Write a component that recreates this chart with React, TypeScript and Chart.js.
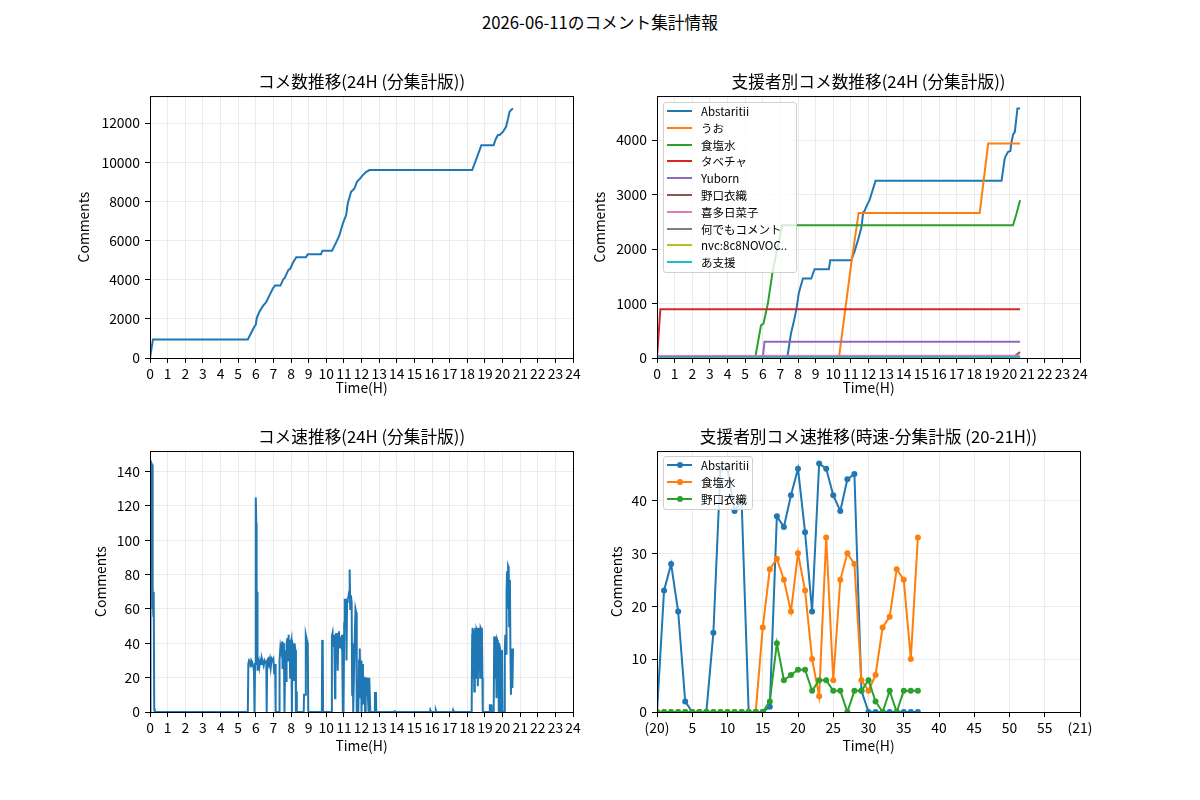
import React, { useEffect, useRef } from 'react';
import { Chart, registerables } from 'chart.js';

Chart.register(...registerables);

// ---------------- DATA ----------------
const pageTitle = '2026-06-11のコメント集計情報';
const titleTotal = 'コメ数推移(24H (分集計版))';
const titleSupporters = '支援者別コメ数推移(24H (分集計版))';
const titleSpeed = 'コメ速推移(24H (分集計版))';
const titleSupporterSpeed = '支援者別コメ速推移(時速-分集計版 (20-21H))';
const yLabel = 'Comments';
const xLabel = 'Time(H)';
const minuteStartLabel = '(20)';
const minuteEndLabel = '(21)';

// tick values
const hourTicks = [0, 1, 2, 3, 4, 5, 6, 7, 8, 9, 10, 11, 12, 13, 14, 15, 16, 17, 18, 19, 20, 21, 22, 23, 24];
const minuteTicks = [0, 5, 10, 15, 20, 25, 30, 35, 40, 45, 50, 55, 60];
const totalTicks = [0, 2000, 4000, 6000, 8000, 10000, 12000];
const supporterTicks = [0, 1000, 2000, 3000, 4000];
const speedTicks = [0, 20, 40, 60, 80, 100, 120, 140];
const supporterSpeedTicks = [0, 10, 20, 30, 40];

// Top-left: total cumulative comments [hour, count]
const totalCumulative: [number, number][] = [
  [0, 0], [0.17, 950], [5.55, 950], [5.75, 1300], [5.92, 1600], [6.0, 1700], [6.06, 2050], [6.2, 2350],
  [6.4, 2650], [6.59, 2850], [6.75, 3150], [6.97, 3550], [7.1, 3700], [7.4, 3700], [7.55, 4000], [7.65, 4100],
  [7.75, 4300], [7.85, 4500], [7.95, 4550], [8.1, 4850], [8.3, 5150], [8.85, 5150], [8.95, 5300], [9.7, 5300],
  [9.78, 5480], [10.33, 5480], [10.55, 5880], [10.75, 6270], [10.94, 6870], [11.13, 7300], [11.22, 7890],
  [11.41, 8490], [11.6, 8660], [11.74, 9000], [11.9, 9150], [12.08, 9340], [12.25, 9500], [12.45, 9600],
  [18.28, 9600], [18.55, 10250], [18.8, 10870], [19.5, 10870], [19.6, 11150], [19.74, 11390], [19.84, 11390],
  [20.03, 11560], [20.2, 11810], [20.32, 12250], [20.4, 12580], [20.5, 12680], [20.6, 12745],
];

// Top-right: cumulative comments per supporter [hour, count]
const supporterNames = ['Abstaritii', 'うお', '食塩水', 'タベチャ', 'Yuborn', '野口衣織', '喜多日菜子', '何でもコメント', 'nvc:8c8NOVOC..', 'あ支援'];
const abstaritiiCum: [number, number][] = [
  [0, 0], [7.39, 0], [7.6, 450], [7.75, 650], [7.9, 880], [8.05, 1200], [8.28, 1460], [8.75, 1460], [8.94, 1630],
  [9.75, 1630], [9.83, 1795], [11.02, 1795], [11.2, 1950], [11.4, 2160], [11.6, 2400], [11.7, 2680], [11.78, 2700],
  [11.9, 2800], [12.06, 2900], [12.25, 3100], [12.4, 3253], [19.55, 3253], [19.72, 3650], [19.77, 3700],
  [19.92, 3786], [20.05, 3800], [20.1, 3940], [20.2, 4100], [20.3, 4150], [20.45, 4582], [20.6, 4582],
];
const uoCum: [number, number][] = [
  [0, 0], [10.32, 0], [10.7, 940], [11.02, 1734], [11.44, 2665], [18.31, 2665], [18.79, 3939], [20.6, 3939],
];
const shokuensuiCum: [number, number][] = [
  [0, 0], [5.57, 0], [5.9, 600], [6.04, 630], [6.29, 1000], [6.57, 1610], [7.1, 2438], [20.2, 2438], [20.4, 2652], [20.6, 2897],
];
const tabechaCum: [number, number][] = [[0, 0], [0.19, 895], [20.6, 895]];
const yubornCum: [number, number][] = [[0, 0], [6.0, 0], [6.1, 300], [20.6, 300]];
const noguchiCum: [number, number][] = [[0, 0], [20.15, 0], [20.6, 110]];
const kitaCum: [number, number][] = [[0, 0], [0.1, 35], [20.6, 40]];
const nandemoCum: [number, number][] = [[0, 0], [0.2, 15], [20.6, 20]];
const nvcCum: [number, number][] = [[0, 0], [20.6, 5]];
const aShienCum: [number, number][] = [[0, 0], [20.6, 8]];

// Bottom-left: comments per minute [hour, count]
const speedPerMinute: [number, number][] = [
  [0, 0], [0.02, 4], [0.04, 142], [0.08, 145], [0.12, 144], [0.14, 60], [0.16, 72], [0.19, 56], [0.21, 70], [0.24, 2], [0.27, 0],
  [5.55, 0], [5.58, 28], [5.62, 30], [5.68, 29], [5.72, 26], [5.75, 30], [5.8, 29], [5.85, 27], [5.9, 24], [5.93, 0],
  [5.96, 28], [6.0, 125], [6.03, 110], [6.05, 68], [6.08, 70], [6.1, 24], [6.14, 30], [6.2, 26], [6.25, 30], [6.3, 28],
  [6.35, 31], [6.4, 29], [6.45, 27], [6.5, 30], [6.55, 29], [6.6, 28], [6.62, 0], [6.65, 30], [6.7, 31], [6.75, 29],
  [6.8, 31], [6.85, 26], [6.9, 31], [6.95, 30], [7.0, 31], [7.05, 22], [7.1, 28], [7.13, 0],
  [7.32, 0], [7.35, 30], [7.4, 38], [7.45, 35], [7.5, 41], [7.52, 25], [7.55, 40], [7.6, 36], [7.63, 0], [7.68, 36],
  [7.72, 18], [7.75, 40], [7.8, 43], [7.83, 30], [7.85, 45], [7.88, 36], [7.92, 42], [7.95, 20], [7.98, 40], [8.02, 42],
  [8.05, 0], [8.08, 40], [8.12, 38], [8.15, 18], [8.2, 40], [8.25, 36], [8.28, 0], [8.3, 12], [8.33, 0],
  [8.72, 0], [8.74, 10], [8.82, 10], [8.84, 45], [8.9, 42], [8.95, 40], [8.98, 0],
  [9.75, 0], [9.77, 42], [9.8, 40], [9.82, 0],
  [10.3, 0], [10.32, 44], [10.36, 46], [10.4, 38], [10.45, 45], [10.5, 8], [10.52, 40], [10.56, 46], [10.6, 42],
  [10.65, 24], [10.68, 44], [10.72, 47], [10.76, 37], [10.8, 44], [10.85, 40], [10.9, 45], [10.93, 38], [10.95, 0],
  [10.98, 0], [11.02, 52], [11.05, 66], [11.08, 55], [11.12, 66], [11.15, 30], [11.18, 64], [11.22, 66], [11.26, 67],
  [11.3, 70], [11.33, 83], [11.36, 60], [11.4, 68], [11.44, 64], [11.47, 10], [11.5, 40], [11.53, 0], [11.56, 0],
  [11.62, 45], [11.66, 60], [11.7, 58], [11.73, 0], [11.78, 18], [11.82, 0], [11.86, 30], [11.9, 37], [11.94, 8],
  [11.98, 30], [12.0, 0], [12.04, 20], [12.08, 28], [12.1, 5], [12.14, 20], [12.18, 20], [12.2, 0], [12.24, 20],
  [12.28, 10], [12.32, 20], [12.36, 20], [12.4, 0], [12.44, 20], [12.48, 20], [12.5, 0],
  [12.74, 0], [12.76, 11], [12.82, 11], [12.84, 0],
  [13.85, 0], [13.87, 1], [13.9, 0], [15.88, 0], [15.9, 1], [15.93, 0], [16.2, 0], [16.22, 1], [16.25, 0],
  [17.18, 0], [17.2, 1], [17.23, 0],
  [18.25, 0], [18.28, 45], [18.3, 49], [18.33, 20], [18.36, 48], [18.4, 12], [18.43, 46], [18.46, 49], [18.5, 20],
  [18.53, 48], [18.56, 47], [18.6, 15], [18.63, 49], [18.66, 30], [18.7, 49], [18.73, 20], [18.76, 49], [18.8, 48],
  [18.83, 49], [18.86, 20], [18.88, 0],
  [19.26, 0], [19.28, 4], [19.36, 4], [19.38, 0],
  [19.5, 0], [19.53, 44], [19.56, 42], [19.6, 20], [19.63, 44], [19.66, 8], [19.7, 42], [19.73, 41], [19.76, 40],
  [19.78, 4], [19.8, 0], [19.86, 0], [19.9, 35], [19.94, 33], [19.97, 36], [20.0, 0], [20.1, 0], [20.13, 36],
  [20.16, 45], [20.2, 34], [20.23, 70], [20.26, 82], [20.29, 60], [20.32, 85], [20.35, 84], [20.38, 50], [20.42, 77],
  [20.45, 35], [20.48, 10], [20.52, 37], [20.56, 14], [20.6, 37],
];

// Bottom-right: per-minute comments 20:00-21:00
const minutes = [0, 1, 2, 3, 4, 5, 6, 7, 8, 9, 10, 11, 12, 13, 14, 15, 16, 17, 18, 19, 20, 21, 22, 23, 24, 25, 26, 27, 28, 29, 30, 31, 32, 33, 34, 35, 36, 37];
const speedNames = ['Abstaritii', '食塩水', '野口衣織'];
const abstaritiiSpeed = [0, 23, 28, 19, 2, 0, 0, 0, 15, 46, 46, 38, 40, 0, 0, 0, 1, 37, 35, 41, 46, 34, 19, 47, 46, 41, 38, 44, 45, 4, 0, 0, 0, 0, 0, 0, 0, 0];
const shokuensuiSpeed = [0, 0, 0, 0, 0, 0, 0, 0, 0, 0, 0, 0, 0, 0, 0, 16, 27, 29, 25, 19, 30, 23, 10, 3, 33, 6, 25, 30, 28, 6, 4, 7, 16, 18, 27, 25, 10, 33];
const noguchiSpeed = [0, 0, 0, 0, 0, 0, 0, 0, 0, 0, 0, 0, 0, 0, 0, 0, 2, 13, 6, 7, 8, 8, 4, 6, 6, 4, 4, 0, 4, 4, 6, 2, 0, 4, 0, 4, 4, 4];

// ---------------- STYLE ----------------
const FONT = "'Noto Sans CJK JP', 'Noto Sans', sans-serif";
const TAB10 = ['#1f77b4', '#ff7f0e', '#2ca02c', '#d62728', '#9467bd', '#8c564b', '#e377c2', '#7f7f7f', '#bcbd22', '#17becf'];
const TICK_FONT = { family: FONT, size: 13.9 };
const TITLE_FONT = { family: FONT, size: 16.7, weight: 'normal' as const };
const GRID_COLOR = '#ebebeb';

Chart.defaults.color = '#000';
Chart.defaults.font.family = FONT;

const framePlugin = {
  id: 'frame',
  afterDatasetsDraw(chart: any) {
    const { ctx, chartArea: a } = chart;
    ctx.save();
    ctx.strokeStyle = '#000';
    ctx.lineWidth = 1;
    ctx.strokeRect(a.left + 0.5, a.top + 0.5, a.right - a.left, a.bottom - a.top);
    ctx.restore();
  },
};

const grid = { color: GRID_COLOR, lineWidth: 1, tickColor: '#000', tickLength: 5, tickWidth: 1 };

function yAxis(max: number, tickValues: number[], width: number, titlePad: number) {
  return {
    type: 'linear',
    min: 0,
    max,
    afterBuildTicks: (s: any) => { s.ticks = tickValues.map((value) => ({ value })); },
    ticks: { font: TICK_FONT, color: '#000', padding: 5, callback: (v: any) => String(v) },
    grid,
    border: { display: false },
    title: { display: true, text: yLabel, font: TICK_FONT, color: '#000', padding: { top: titlePad, bottom: 0 } },
    afterFit: (s: any) => { s.width = width; },
  };
}

function xAxis(max: number, tickValues: number[], height: number, titlePad: number, fmt: (v: number) => string) {
  return {
    type: 'linear',
    min: 0,
    max,
    afterBuildTicks: (s: any) => { s.ticks = tickValues.map((value) => ({ value })); },
    ticks: { autoSkip: false, maxRotation: 0, minRotation: 0, font: TICK_FONT, color: '#000', padding: 2, callback: (v: any) => fmt(v) },
    grid,
    border: { display: false },
    title: { display: true, text: xLabel, font: TICK_FONT, color: '#000', padding: { top: 0, bottom: titlePad } },
    afterFit: (s: any) => { s.height = height; },
  };
}

function baseOptions(title: string, titlePadTop: number, titlePadBottom: number, padRight: number, x: any, y: any) {
  return {
    responsive: false,
    maintainAspectRatio: false,
    animation: false,
    events: [],
    layout: { padding: { left: 0, right: padRight, top: 0, bottom: 0 } },
    elements: { line: { tension: 0 } },
    plugins: {
      legend: { display: false },
      tooltip: { enabled: false },
      title: { display: true, text: title, font: TITLE_FONT, color: '#000', fullSize: false, padding: { top: titlePadTop, bottom: titlePadBottom } },
    },
    scales: { x, y },
  };
}

const toXY = (pts: [number, number][]) => pts.map(([x, y]) => ({ x, y }));

function lineSet(label: string, pts: [number, number][], color: string, order: number) {
  return { label, data: toXY(pts), borderColor: color, backgroundColor: color, borderWidth: 2, pointRadius: 0, fill: false, order };
}

const hourFmt = (v: number) => String(v);

function buildTotal() {
  return {
    type: 'line',
    data: { datasets: [lineSet('total', totalCumulative, TAB10[0], 1)] },
    options: baseOptions(titleTotal, 32, 4, 27, xAxis(24, hourTicks, 52, 13.66, hourFmt), yAxis(13382, totalTicks, 150, 75.66)),
    plugins: [framePlugin],
  };
}

function buildSupporters() {
  const series = [abstaritiiCum, uoCum, shokuensuiCum, tabechaCum, yubornCum, noguchiCum, kitaCum, nandemoCum, nvcCum, aShienCum];
  return {
    type: 'line',
    data: { datasets: series.map((s, i) => lineSet(supporterNames[i], s, TAB10[i], series.length - i)) },
    options: baseOptions(titleSupporters, 32, 4, 120, xAxis(24, hourTicks, 52, 13.66, hourFmt), yAxis(4811, supporterTicks, 77, 11.66)),
    plugins: [framePlugin],
  };
}

function buildSpeed() {
  return {
    type: 'line',
    data: { datasets: [lineSet('speed', speedPerMinute, TAB10[0], 1)] },
    options: baseOptions(titleSpeed, 33, 4, 27, xAxis(24, hourTicks, 52, 9.66, hourFmt), yAxis(152, speedTicks, 150, 92.66)),
    plugins: [framePlugin],
  };
}

function buildSupporterSpeed() {
  const series = [abstaritiiSpeed, shokuensuiSpeed, noguchiSpeed];
  const minuteFmt = (v: number) => (v === 0 ? minuteStartLabel : v === 60 ? minuteEndLabel : String(v));
  return {
    type: 'line',
    data: {
      datasets: series.map((vals, i) => ({
        label: speedNames[i],
        data: vals.map((y, k) => ({ x: minutes[k], y })),
        borderColor: TAB10[i],
        backgroundColor: TAB10[i],
        borderWidth: 2,
        pointRadius: 3,
        pointBorderWidth: 0,
        pointBackgroundColor: TAB10[i],
        fill: false,
        order: series.length - i,
      })),
    },
    options: baseOptions(titleSupporterSpeed, 33, 4, 120, xAxis(60, minuteTicks, 52, 9.66, minuteFmt), yAxis(49.35, supporterSpeedTicks, 77, 28.66)),
    plugins: [framePlugin],
  };
}

// ---------------- COMPONENTS ----------------
function Panel({ left, top, width, height, build }: { left: number; top: number; width: number; height: number; build: () => any }) {
  const ref = useRef<HTMLCanvasElement>(null);
  useEffect(() => {
    const chart = new Chart(ref.current as HTMLCanvasElement, build());
    return () => chart.destroy();
  }, []);
  return <canvas ref={ref} width={width} height={height} style={{ position: 'absolute', left, top, width, height }} />;
}

function Legend({ left, top, width, height, labels, colors, marker }: { left: number; top: number; width: number; height: number; labels: string[]; colors: string[]; marker: boolean }) {
  return (
    <div
      style={{
        position: 'absolute', left, top, width, height, boxSizing: 'border-box', border: '1px solid #d0d0d0', borderRadius: 3,
        background: 'rgba(255,255,255,0.8)', fontFamily: FONT, fontSize: 11.5, color: '#000',
      }}
    >
      {labels.map((label, i) => (
        <div key={i} style={{ position: 'absolute', left: 0, top: i * 16.8, height: 16, display: 'flex', alignItems: 'center', whiteSpace: 'nowrap' }}>
          <div style={{ position: 'relative', marginLeft: 3, width: 25, height: 2, background: colors[i] }}>
            {marker && <div style={{ position: 'absolute', left: 9.5, top: -2, width: 6, height: 6, borderRadius: 3, background: colors[i] }} />}
          </div>
          <span style={{ marginLeft: 9, lineHeight: '16px' }}>{label}</span>
        </div>
      ))}
    </div>
  );
}

export default function App() {
  return (
    <div style={{ position: 'absolute', left: 0, top: 0, width: 1200, height: 800, background: '#fff', overflow: 'hidden' }}>
      <div style={{ position: 'absolute', left: 0, top: 12, width: 1200, textAlign: 'center', fontFamily: FONT, fontSize: 16.7, lineHeight: '20px', color: '#000' }}>
        {pageTitle}
      </div>
      <Panel left={0} top={40} width={600} height={370} build={buildTotal} />
      <Panel left={580} top={40} width={620} height={370} build={buildSupporters} />
      <Panel left={0} top={394} width={600} height={370} build={buildSpeed} />
      <Panel left={580} top={394} width={620} height={370} build={buildSupporterSpeed} />
      <Legend left={663} top={102} width={134} height={171} labels={supporterNames} colors={TAB10} marker={false} />
      <Legend left={663} top={456} width={90} height={54} labels={speedNames} colors={TAB10.slice(0, 3)} marker={true} />
    </div>
  );
}
